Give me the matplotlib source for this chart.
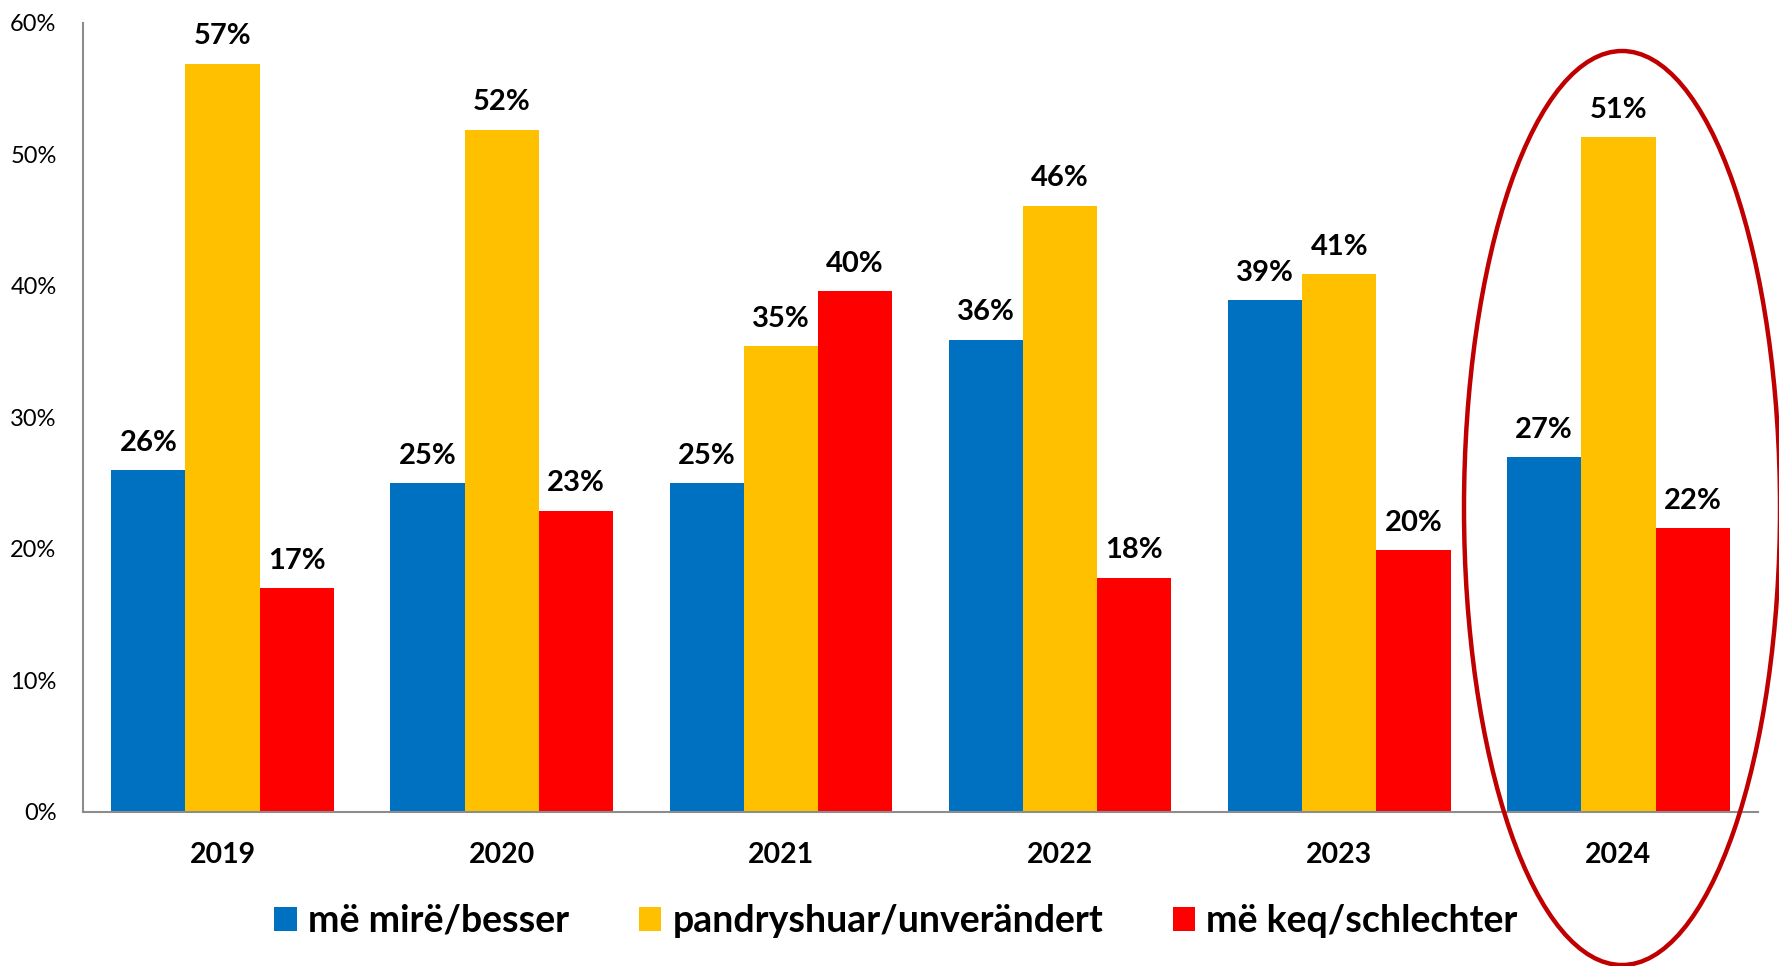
import matplotlib
matplotlib.use("Agg")
import matplotlib.pyplot as plt
from matplotlib.patches import Ellipse, Patch
import numpy as np

years = ["2019", "2020", "2021", "2022", "2023", "2024"]
better = [26.0, 25.0, 25.0, 35.9, 38.9, 27.0]
unchanged = [56.9, 51.9, 35.4, 46.1, 40.9, 51.3]
worse = [17.0, 22.9, 39.6, 17.8, 19.9, 21.6]
series_names = ["më mirë/besser", "pandryshuar/unverändert", "më keq/schlechter"]
colors = ["#0070C0", "#FFC000", "#FF0000"]
yticks = [0, 10, 20, 30, 40, 50, 60]
ytick_labels = ["0%", "10%", "20%", "30%", "40%", "50%", "60%"]

FONT = ["Lato", "DejaVu Sans"]
W, H = 1779, 966
fig = plt.figure(figsize=(W / 100, H / 100), dpi=100)
ax = fig.add_axes([83 / W, 1 - 812 / H, (1758 - 83) / W, (812 - 23) / H])

x = np.arange(len(years))
w = 0.266
for i, (vals, c) in enumerate(zip([better, unchanged, worse], colors)):
    pos = x + (i - 1) * w
    ax.bar(pos, vals, w, color=c, zorder=2)
    for xi, v in zip(pos, vals):
        ax.annotate(f"{round(v)}%", (xi, v), xytext=(0, 14), textcoords="offset points",
                    ha="center", va="baseline", fontsize=21, fontweight="bold",
                    family=FONT, color="black")

ax.set_xlim(-0.5, 5.5)
ax.set_ylim(0, 60)
ax.set_xticks(x)
ax.set_xticklabels(years, fontsize=20.5, fontweight="bold", family=FONT)
ax.set_yticks(yticks)
ax.set_yticklabels(ytick_labels, fontsize=17, family=FONT)
ax.tick_params(axis="x", length=0, pad=21.5)
ax.tick_params(axis="y", length=0, pad=19)
for s in ["top", "right"]:
    ax.spines[s].set_visible(False)
for s in ["left", "bottom"]:
    ax.spines[s].set_color("#8C8C8C")
    ax.spines[s].set_linewidth(1.5)

handles = [Patch(facecolor=c, edgecolor="none") for c in colors]
fig.legend(handles, series_names, loc="center", bbox_to_anchor=(896 / W, 1 - 921 / H),
           ncol=3, frameon=False, handlelength=0.6, handleheight=0.6,
           handletextpad=0.3, columnspacing=1.85,
           prop={"family": FONT, "weight": "bold", "size": 27})

ell = Ellipse((1622 / W, 1 - 508 / H), width=316 / W, height=914 / H,
              transform=fig.transFigure, fill=False, edgecolor="#C00000",
              linewidth=3.2, clip_on=False)
fig.add_artist(ell)

fig.savefig("out.png", dpi=100)
